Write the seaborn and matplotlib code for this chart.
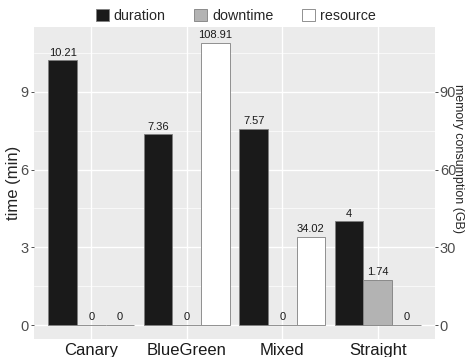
import pandas as pd
import matplotlib
matplotlib.use("Agg")
import matplotlib.pyplot as plt
from matplotlib.patches import Patch
import seaborn as sns

# data
categories = ["Canary", "BlueGreen", "Mixed", "Straight"]
duration = [10.21, 7.36, 7.57, 4]        # time (min)
downtime = [0, 0, 0, 1.74]               # time (min)
resource = [0, 108.91, 34.02, 0]         # memory consumption (GB)
series = ["duration", "downtime", "resource"]
colors = {"duration": "#1A1A1A", "downtime": "#B3B3B3", "resource": "#FFFFFF"}

sns.set_theme(style="darkgrid", rc={
    "axes.facecolor": "#EBEBEB",
    "grid.color": "white",
})
plt.rcParams["font.family"] = ["Liberation Sans", "DejaVu Sans"]

# long tables: time series on the left axis, resource on the right one
nan = float("nan")
left = pd.DataFrame({
    "strategy": categories * 3,
    "metric": ["duration"] * 4 + ["downtime"] * 4 + ["resource"] * 4,
    "value": duration + downtime + [nan] * 4,
})
right = pd.DataFrame({
    "strategy": categories * 3,
    "metric": ["duration"] * 4 + ["downtime"] * 4 + ["resource"] * 4,
    "value": [nan] * 8 + resource,
})

fig = plt.figure(figsize=(4.66, 3.57), dpi=100)
ax = fig.add_axes([34 / 466, 1 - 339 / 357, (435 - 34) / 466, (339 - 27) / 357])
ax2 = ax.twinx()

kw = dict(x="strategy", y="value", hue="metric", hue_order=series,
          order=categories, palette=colors, width=0.9, legend=False,
          edgecolor="#7F7F7F", linewidth=0.6, errorbar=None)
sns.barplot(data=left, ax=ax, **kw)
sns.barplot(data=right, ax=ax2, **kw)

for a in (ax, ax2):
    for c in a.containers:
        a.bar_label(c, fmt="%g", padding=2, fontsize=8, color="#1A1A1A")

ax.set_xlim(-0.6, 3.6)
ax.set_ylim(-0.54, 11.5)
ax2.set_ylim(-5.4, 115)
ax.set_yticks([0, 3, 6, 9])
ax.set_yticks([1.5, 4.5, 7.5, 10.5], minor=True)
ax2.set_yticks([0, 30, 60, 90])
ax.grid(True, which="major", color="white", linewidth=1.0)
ax.grid(True, which="minor", axis="y", color="white", linewidth=0.5)
ax2.grid(False)

for s in list(ax.spines.values()) + list(ax2.spines.values()):
    s.set_visible(False)

ax.tick_params(axis="both", length=2.5, width=0.6, color="#333333",
               labelcolor="#4D4D4D", labelsize=10.5, pad=1.5)
ax.tick_params(axis="y", which="minor", length=0)
ax.tick_params(axis="x", labelsize=12, labelcolor="#1A1A1A", pad=0.5)
ax2.tick_params(axis="y", length=2.5, width=0.6, color="#333333",
                labelcolor="#4D4D4D", labelsize=10.5, pad=1.0)

ax.set_xlabel("")
ax.set_ylabel("time (min)", fontsize=12, va="center")
ax.yaxis.set_label_coords(-0.052, 0.5)
ax2.set_ylabel("memory consumption (GB)", fontsize=9, rotation=270,
               va="center")
ax2.yaxis.set_label_coords(1.058, 0.58)

handles = [Patch(facecolor=colors[s], edgecolor="#7F7F7F", linewidth=0.6, label=s)
           for s in series]
fig.legend(handles=handles, loc="center", bbox_to_anchor=(236 / 466, 1 - 16 / 357),
           ncol=3, frameon=False, fontsize=10.3, handlelength=0.9,
           handleheight=0.9, handletextpad=0.35, columnspacing=2.0,
           borderpad=0)

fig.savefig("out.png", dpi=100)
